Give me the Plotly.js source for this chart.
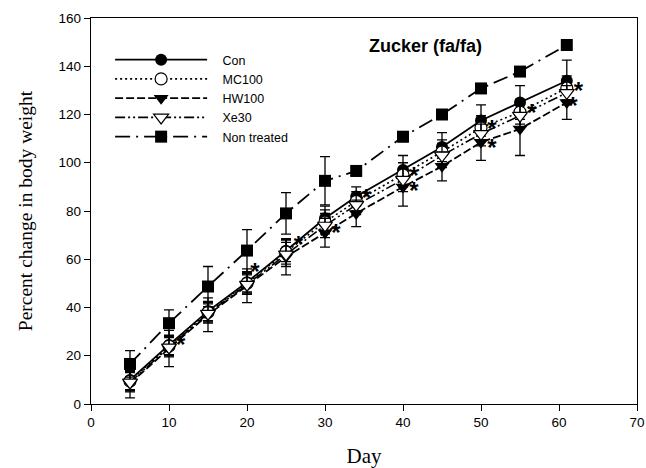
<!DOCTYPE html>
<html>
<head>
<meta charset="utf-8">
<script src="https://cdn.plot.ly/plotly-3.0.1.min.js"></script>
<style>html,body{margin:0;padding:0;background:#fff;}#chart{width:646px;height:468px;}</style>
</head>
<body>
<div id="chart"></div>
<script>
var days = [5, 10, 15, 20, 25, 30, 34, 40, 45, 50, 55, 61];

var conVals = [10, 24.5, 38.5, 50.5, 63.5, 77, 86, 97, 106.5, 117.5, 125, 134];
var conErr  = [4, 4, 4, 4, 4.5, 5, 4, 6, 6, 6.5, 7, 8.5];

var mcVals = [9.5, 24, 38, 50, 63, 75.5, 84, 95, 104.5, 114.5, 121, 131];
var mcErr  = [4, 4, 4, 4, 5, 5, 4, 5, 5, 5, 5, 5];

var hwVals = [8.5, 23, 37, 49, 61, 71, 79, 90, 98.5, 108.5, 114, 125];
var hwErr  = [6, 7.5, 7, 7, 7.5, 6, 5.5, 8, 6, 7.5, 11, 7];

var xeVals = [9, 23.5, 37.5, 49.5, 62, 74, 82.5, 93, 103, 112, 119.5, 129];
var xeErr  = [4, 4, 4, 4, 5, 5, 4, 5, 5, 5, 5, 5];

var ntVals = [16.6, 33.5, 48.7, 63.6, 79, 92.5, 96.6, 110.8, 120, 130.8, 137.8, 148.8];
var ntErr  = [5.5, 5.5, 8.3, 8.7, 8.6, 10, 2, 2, 2, 2, 2, 2];

var seriesNames = ['Con', 'MC100', 'HW100', 'Xe30', 'Non treated'];

var starDays = [11.5, 21, 26.6, 31.4, 35.3, 41.4, 41.4, 51.4, 51.4, 56.5, 62.5, 61.8];
var starVals = [23.5, 54, 65, 70, 84.7, 93.8, 87.6, 113.3, 105.3, 119.8, 128.8, 122.6];

var xTicks = [0, 10, 20, 30, 40, 50, 60, 70];
var yTicks = [0, 20, 40, 60, 80, 100, 120, 140, 160];

function errBar(arr) {
  return {type: 'data', array: arr, visible: true, color: '#000', thickness: 1.3, width: 5};
}
function legName(s) { return '\u00a0\u00a0\u00a0' + s; }

var traces = [
  {x: days, y: conVals, name: legName(seriesNames[0]), mode: 'lines+markers', error_y: errBar(conErr),
   line: {color: '#000', width: 1.8, dash: 'solid'},
   marker: {symbol: 'circle', size: 12, color: '#000'}},
  {x: days, y: mcVals, name: legName(seriesNames[1]), mode: 'lines+markers', error_y: errBar(mcErr),
   line: {color: '#000', width: 1.6, dash: '2px,3px'},
   marker: {symbol: 'circle', size: 12, color: '#fff', line: {color: '#000', width: 1.2}}},
  {x: days, y: hwVals, name: legName(seriesNames[2]), mode: 'lines+markers', error_y: errBar(hwErr),
   line: {color: '#000', width: 1.8, dash: '8px,3px'},
   marker: {symbol: 'triangle-down', size: 13, color: '#000'}},
  {x: days, y: xeVals, name: legName(seriesNames[3]), mode: 'lines+markers', error_y: errBar(xeErr),
   line: {color: '#000', width: 1.6, dash: '10px,3px,2px,3px,2px,3px'},
   marker: {symbol: 'triangle-down', size: 13, color: '#fff', line: {color: '#000', width: 1.2}}},
  {x: days, y: ntVals, name: legName(seriesNames[4]), mode: 'lines+markers', error_y: errBar(ntErr),
   line: {color: '#000', width: 1.8, dash: '15px,6px,2px,6px'},
   marker: {symbol: 'square', size: 12, color: '#000'}},
  {x: starDays, y: starVals, mode: 'text', text: starDays.map(function(){return '*';}),
   textposition: 'middle center', showlegend: false, hoverinfo: 'skip',
   textfont: {family: 'Liberation Sans, Arial, sans-serif', size: 24, color: '#000000', weight: 'bold'}}
];

var layout = {
  width: 646, height: 468,
  margin: {l: 91, r: 9, t: 18, b: 64},
  paper_bgcolor: '#fff', plot_bgcolor: '#fff',
  font: {family: 'Liberation Sans, Arial, sans-serif', size: 13, color: '#000'},
  showlegend: true,
  legend: {x: 0.035, y: 0.93, xanchor: 'left', yanchor: 'top', bgcolor: 'rgba(0,0,0,0)',
           font: {family: 'Liberation Sans, Arial, sans-serif', size: 12.5, color: '#000'},
           itemwidth: 92, tracegroupgap: 0},
  xaxis: {range: [0, 70], tickvals: xTicks, ticktext: xTicks.map(String),
          showgrid: false, zeroline: false, showline: true, linecolor: '#000', linewidth: 1.2,
          mirror: true, ticks: 'outside', ticklen: 6, tickcolor: '#000', tickwidth: 1,
          tickfont: {size: 13.5, color: '#000'},
          title: {text: 'Day', font: {family: 'Liberation Serif, Times New Roman, serif', size: 21, color: '#000'}, standoff: 18}},
  yaxis: {range: [0, 160], tickvals: yTicks, ticktext: yTicks.map(String),
          showgrid: false, zeroline: false, showline: true, linecolor: '#000', linewidth: 1.2,
          mirror: true, ticks: 'outside', ticklen: 6, tickcolor: '#000', tickwidth: 1,
          tickfont: {size: 13.5, color: '#000'},
          title: {text: 'Percent change in body weight', font: {family: 'Liberation Serif, Times New Roman, serif', size: 19.5, color: '#000'}, standoff: 20}},
  annotations: [
    {xref: 'paper', yref: 'paper', x: 0.613, y: 0.927, xanchor: 'center', yanchor: 'middle',
     text: '<b>Zucker (fa/fa)</b>', showarrow: false,
     font: {family: 'Liberation Sans, Arial, sans-serif', size: 18, color: '#000'}}
  ]
};

Plotly.newPlot('chart', traces, layout, {displayModeBar: false, staticPlot: true});
</script>
</body>
</html>
